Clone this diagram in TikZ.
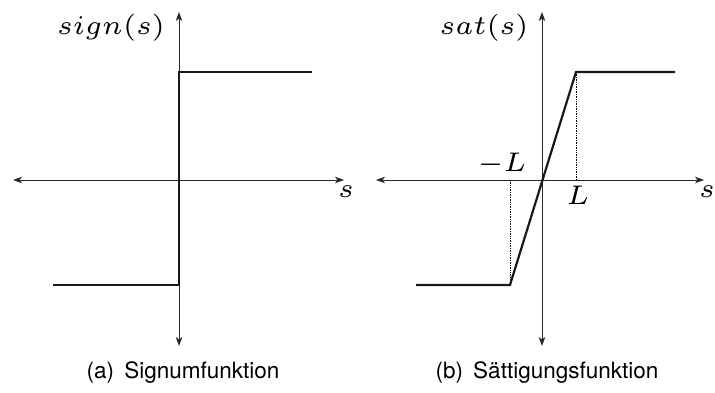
\documentclass[tikz,border=0pt]{standalone}
\usepackage[no-math]{fontspec}
\setmainfont{TeX Gyre Heros}
\usetikzlibrary{arrows.meta}
\newcommand{\plotmath}[1]{\scalebox{4.5}{\fontsize{6}{7}\selectfont$#1$}}
\begin{document}
\begin{tikzpicture}[x=1pt,y=-1pt,
  axis/.style={line width=0.9pt, draw=black!85,
    {Stealth[length=9pt,width=6.5pt,inset=2.5pt]}-{Stealth[length=9pt,width=6.5pt,inset=2.5pt]}},
  curve/.style={line width=2.2pt, line join=miter, draw=black!90},
  guide/.style={densely dotted, line width=0.7pt},
  mlabel/.style={inner sep=0pt},
  caption/.style={font=\fontsize{22.5}{27}\selectfont, inner sep=0pt}]
\useasboundingbox (0,0) rectangle (715,393);
% ---------- left: sign ----------
\coordinate (aT) at (179,12);
\coordinate (aB) at (179,346);
\coordinate (aL) at (13,180);
\coordinate (aR) at (344,180);
\coordinate (a1) at (53,285);
\coordinate (a2) at (179,285);
\coordinate (a3) at (179,72);
\coordinate (a4) at (312,72);
\draw[axis] (aB) -- (aT);
\draw[axis] (aL) -- (aR);
\draw[curve] (a1) -- (a2) -- (a3) -- (a4);
\node[mlabel] (signlbl) at (111,28) {\plotmath{sign(s)}};
\node[mlabel] (sA) at (346,192) {\plotmath{s}};
\node[caption] (capA) at (183,373) {(a)\hspace{0.45em}Signumfunktion};
% ---------- right: sat ----------
\coordinate (bT) at (542,12);
\coordinate (bB) at (542,346);
\coordinate (bL) at (376,180);
\coordinate (bR) at (704,180);
\coordinate (b1) at (416,285);
\coordinate (b2) at (510,285);
\coordinate (b3) at (576,72);
\coordinate (b4) at (675,72);
\coordinate (bLp) at (576,180);
\coordinate (bLm) at (510,180);
\draw[axis] (bB) -- (bT);
\draw[axis] (bL) -- (bR);
\draw[guide] (b3) -- (bLp);
\draw[guide] (bLm) -- (b2);
\draw[curve] (b1) -- (b2) -- (b3) -- (b4);
\node[mlabel] (satlbl) at (484,28) {\plotmath{sat(s)}};
\node[mlabel] (sB) at (707,192) {\plotmath{s}};
\node[mlabel] (Lm) at (502,164) {\plotmath{-L}};
\node[mlabel] (Lp) at (578,195) {\plotmath{L}};
\node[caption] (capB) at (547,373) {(b)\hspace{0.45em}Sättigungsfunktion};
\end{tikzpicture}
\end{document}
